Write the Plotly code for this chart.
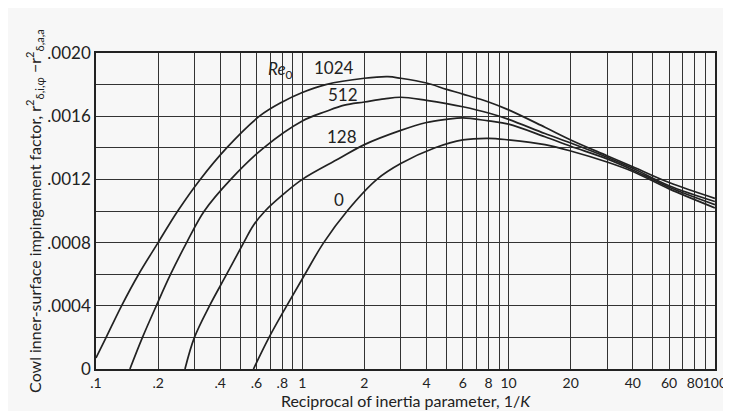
import math
import plotly.graph_objects as go

# ---- data ----
x_1024 = [0.1, 0.112, 0.133, 0.161, 0.2, 0.249, 0.32, 0.43, 0.62, 0.8, 1.0, 1.3, 2, 2.6, 3, 4, 5, 6, 8, 10, 15, 20, 30, 40, 60, 100]
y_1024 = [0.00007, 0.0002, 0.0004, 0.0006, 0.0008, 0.001, 0.0012, 0.0014, 0.0016, 0.00169, 0.00175, 0.0018, 0.00184, 0.00185, 0.00184, 0.00181, 0.00177, 0.00174, 0.00169, 0.00164, 0.00153, 0.00145, 0.00135, 0.00128, 0.00118, 0.00108]

x_512 = [0.146, 0.168, 0.196, 0.23, 0.275, 0.335, 0.45, 0.65, 1.0, 1.3, 1.6, 2, 2.5, 3, 4, 5, 6, 8, 10, 15, 20, 30, 40, 60, 100]
y_512 = [0.0, 0.0002, 0.0004, 0.0006, 0.0008, 0.001, 0.0012, 0.0014, 0.00157, 0.00163, 0.00167, 0.00169, 0.00171, 0.00172, 0.0017, 0.00168, 0.00166, 0.00162, 0.00158, 0.00149, 0.00143, 0.00134, 0.00127, 0.00116, 0.00106]

x_128 = [0.27, 0.3, 0.355, 0.43, 0.52, 0.58, 0.66, 0.8, 1.0, 1.5, 2, 3, 4, 5, 6, 8, 10, 15, 20, 30, 40, 60, 100]
y_128 = [0.0, 0.0002, 0.0004, 0.0006, 0.0008, 0.00091, 0.001, 0.0011, 0.0012, 0.00133, 0.00142, 0.00151, 0.00156, 0.00158, 0.00159, 0.00157, 0.00155, 0.00147, 0.00141, 0.00133, 0.00126, 0.00115, 0.00104]

x_0 = [0.58, 0.69, 0.84, 1.03, 1.27, 1.65, 2.3, 3, 4.4, 6, 8, 10, 15, 20, 30, 40, 60, 100]
y_0 = [0.0, 0.0002, 0.0004, 0.0006, 0.0008, 0.001, 0.0012, 0.0013, 0.0014, 0.00145, 0.00146, 0.00145, 0.00142, 0.00138, 0.00131, 0.00125, 0.00114, 0.00102]

x_tickvals = [0.1, 0.2, 0.3, 0.4, 0.5, 0.6, 0.7, 0.8, 0.9,
              1, 2, 3, 4, 5, 6, 7, 8, 9,
              10, 20, 30, 40, 50, 60, 70, 80, 90, 100]
x_ticktext = [".1", ".2", "", ".4", "", ".6", "", ".8", "",
              "1", "2", "", "4", "", "6", "", "8", "",
              "10", "20", "", "40", "", "60", "", "80", "", "100"]

y_tickvals = [0, 0.0002, 0.0004, 0.0006, 0.0008, 0.001, 0.0012, 0.0014, 0.0016, 0.0018, 0.002]
y_ticktext = ["0", "", ".0004", "", ".0008", "", ".0012", "", ".0016", "", ".0020"]

labels_text = ["<i>Re</i><sub>0</sub>", "1024", "512", "128", "0"]
labels_x = [0.78, 1.42, 1.58, 1.55, 1.5]
labels_y = [0.00189, 0.00191, 0.00174, 0.00147, 0.00107]

FONT = "Lato"
INK = "#222222"

fig = go.Figure()
for xs, ys in [(x_1024, y_1024), (x_512, y_512), (x_128, y_128), (x_0, y_0)]:
    fig.add_trace(go.Scatter(x=xs, y=ys, mode="lines",
                             line=dict(color=INK, width=1.7, shape="spline", smoothing=1.0),
                             showlegend=False, hoverinfo="skip"))

for t, xv, yv in zip(labels_text, labels_x, labels_y):
    fig.add_annotation(x=math.log10(xv), y=yv, text=t, showarrow=False,
                       font=dict(family=FONT, size=17, color=INK),
                       xref="x", yref="y")

fig.update_layout(
    width=731, height=411,
    margin=dict(l=88, r=19, t=45, b=50),
    paper_bgcolor="#f7f7f7", plot_bgcolor="#f7f7f7",
    font=dict(family=FONT, size=15, color=INK),
)
fig.update_xaxes(
    type="log", range=[-1, 2.0005],
    tickmode="array", tickvals=x_tickvals, ticktext=x_ticktext,
    tickangle=0,
    showgrid=True, gridcolor="#333333", gridwidth=1,
    showline=True, linecolor=INK, linewidth=1.6, mirror=True,
    ticks="", tickfont=dict(size=14),
    title=dict(text="Reciprocal of inertia parameter, 1/<i>K</i>", font=dict(size=16), standoff=4),
    zeroline=False,
)
fig.update_yaxes(
    range=[0, 0.002],
    tickmode="array", tickvals=y_tickvals, ticktext=y_ticktext,
    showgrid=True, gridcolor="#333333", gridwidth=1,
    showline=True, linecolor=INK, linewidth=1.6, mirror=True,
    ticks="", tickfont=dict(size=17),
    title=dict(text="Cowl inner-surface impingement factor, r<sup>2</sup><sub>δ,i,φ</sub> −r<sup>2</sup><sub>δ,a,a</sub>",
               font=dict(size=16), standoff=2),
    zeroline=False,
)

fig.write_html("out.html")
